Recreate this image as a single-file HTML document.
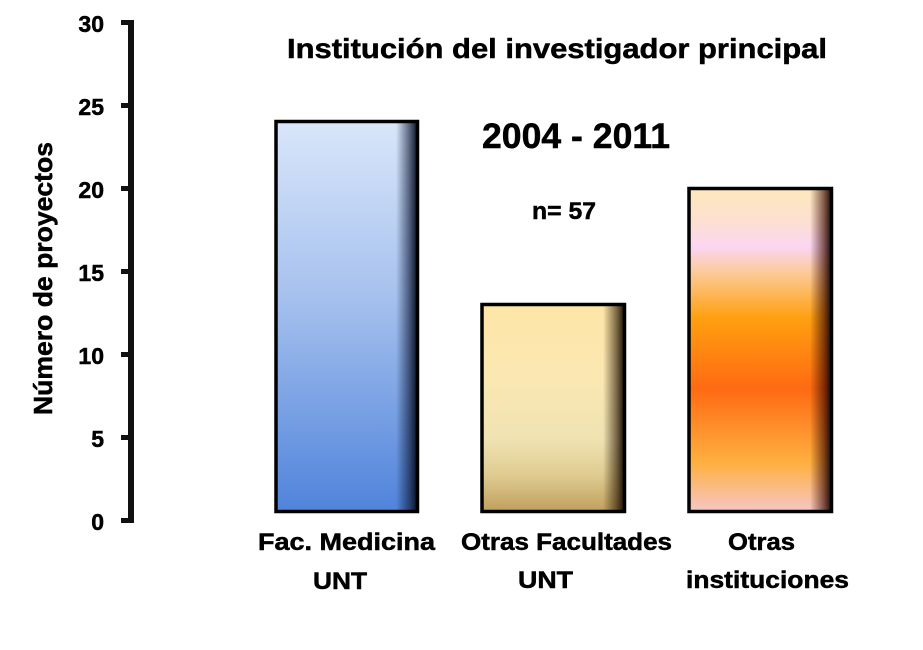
<!DOCTYPE html>
<html>
<head>
<meta charset="utf-8">
<style>
  html,body{margin:0;padding:0;background:#fff;}
  svg{display:block;}
  text{font-family:"Liberation Sans",sans-serif;font-weight:bold;fill:#000;stroke:#000;stroke-width:0.5px;}
</style>
</head>
<body>
<svg width="923" height="650" viewBox="0 0 923 650" xmlns="http://www.w3.org/2000/svg">
  <defs>
    <linearGradient id="g1" x1="0" y1="0" x2="0" y2="1">
      <stop offset="0" stop-color="#d9e6fa"/>
      <stop offset="0.45" stop-color="#a6c1ee"/>
      <stop offset="1" stop-color="#5083db"/>
    </linearGradient>
    <linearGradient id="g2" x1="0" y1="0" x2="0" y2="1">
      <stop offset="0" stop-color="#fde6a6"/>
      <stop offset="0.35" stop-color="#fbe7b2"/>
      <stop offset="0.65" stop-color="#f0e3b2"/>
      <stop offset="0.82" stop-color="#e0cc92"/>
      <stop offset="1" stop-color="#c09f5e"/>
    </linearGradient>
    <linearGradient id="g3" x1="0" y1="0" x2="0" y2="1">
      <stop offset="0" stop-color="#fde8bc"/>
      <stop offset="0.10" stop-color="#fde0d0"/>
      <stop offset="0.18" stop-color="#fbd6f2"/>
      <stop offset="0.27" stop-color="#fcc88e"/>
      <stop offset="0.40" stop-color="#ffa010"/>
      <stop offset="0.62" stop-color="#ff6a12"/>
      <stop offset="0.85" stop-color="#ffb040"/>
      <stop offset="1" stop-color="#f6c6c6"/>
    </linearGradient>
    <linearGradient id="s1" x1="0" y1="0" x2="1" y2="0">
      <stop offset="0" stop-color="#0a1530" stop-opacity="0"/>
      <stop offset="0.6" stop-color="#0a1530" stop-opacity="0.6"/>
      <stop offset="1" stop-color="#050a18" stop-opacity="1"/>
    </linearGradient>
    <linearGradient id="s2" x1="0" y1="0" x2="1" y2="0">
      <stop offset="0" stop-color="#2a1a05" stop-opacity="0"/>
      <stop offset="0.6" stop-color="#2a1a05" stop-opacity="0.6"/>
      <stop offset="1" stop-color="#100800" stop-opacity="1"/>
    </linearGradient>
    <linearGradient id="s3" x1="0" y1="0" x2="1" y2="0">
      <stop offset="0" stop-color="#3a0a00" stop-opacity="0"/>
      <stop offset="0.6" stop-color="#3a0a00" stop-opacity="0.6"/>
      <stop offset="1" stop-color="#150300" stop-opacity="1"/>
    </linearGradient>
  </defs>

  <!-- Axis -->
  <rect x="128" y="20" width="6" height="503" fill="#111"/>
  <rect x="121" y="518" width="10" height="5" fill="#111"/>
  <rect x="121" y="435" width="10" height="5" fill="#111"/>
  <rect x="121" y="352" width="10" height="5" fill="#111"/>
  <rect x="121" y="269" width="10" height="5" fill="#111"/>
  <rect x="121" y="186" width="10" height="5" fill="#111"/>
  <rect x="121" y="103" width="10" height="5" fill="#111"/>
  <rect x="121" y="20" width="10" height="5" fill="#111"/>

  <!-- Tick labels -->
  <g font-size="23" text-anchor="end">
    <text x="104" y="530">0</text>
    <text x="104" y="447">5</text>
    <text x="104" y="364">10</text>
    <text x="104" y="281">15</text>
    <text x="104" y="198">20</text>
    <text x="104" y="115">25</text>
    <text x="104" y="32">30</text>
  </g>

  <!-- Y label -->
  <text transform="translate(52,415) rotate(-90)" x="0" y="0" font-size="26" textLength="273" lengthAdjust="spacingAndGlyphs">Número de proyectos</text>

  <!-- Bars -->
  <rect x="276" y="121.5" width="141.5" height="390" fill="url(#g1)"/>
  <rect x="396" y="121.5" width="22" height="390" fill="url(#s1)"/>
  <rect x="276" y="121.5" width="141.5" height="390" fill="none" stroke="#000" stroke-width="3.5"/>

  <rect x="482" y="304.5" width="142.5" height="207" fill="url(#g2)"/>
  <rect x="603" y="304.5" width="22" height="207" fill="url(#s2)"/>
  <rect x="482" y="304.5" width="142.5" height="207" fill="none" stroke="#000" stroke-width="3.5"/>

  <rect x="689" y="188.5" width="142.5" height="323" fill="url(#g3)"/>
  <rect x="810" y="188.5" width="22" height="323" fill="url(#s3)"/>
  <rect x="689" y="188.5" width="142.5" height="323" fill="none" stroke="#000" stroke-width="3.5"/>

  <!-- Titles -->
  <text x="287" y="58" font-size="28" textLength="540" lengthAdjust="spacingAndGlyphs">Institución del investigador principal</text>
  <text x="482" y="148" font-size="35" textLength="188" lengthAdjust="spacingAndGlyphs">2004 - 2011</text>
  <text x="532" y="219" font-size="24" textLength="64" lengthAdjust="spacingAndGlyphs">n= 57</text>

  <!-- Category labels -->
  <g font-size="24">
    <text x="258" y="550" textLength="177" lengthAdjust="spacingAndGlyphs">Fac. Medicina</text>
    <text x="313" y="589" textLength="54" lengthAdjust="spacingAndGlyphs">UNT</text>
    <text x="461" y="550" textLength="211" lengthAdjust="spacingAndGlyphs">Otras Facultades</text>
    <text x="518" y="588" textLength="55" lengthAdjust="spacingAndGlyphs">UNT</text>
    <text x="728" y="550" textLength="67" lengthAdjust="spacingAndGlyphs">Otras</text>
    <text x="686" y="588" textLength="163" lengthAdjust="spacingAndGlyphs">instituciones</text>
  </g>
</svg>
</body>
</html>
